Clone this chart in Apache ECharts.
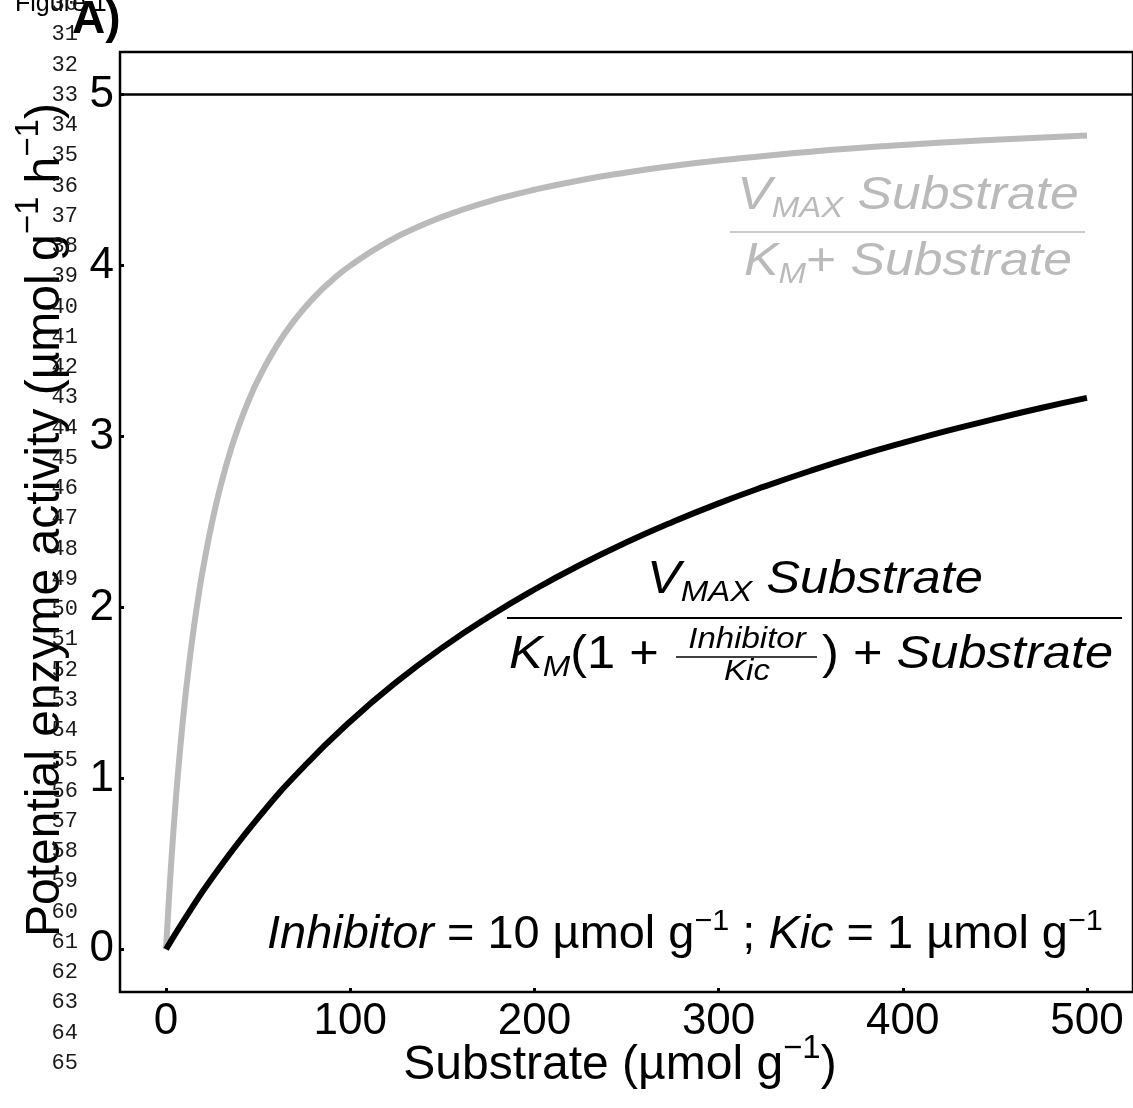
<!DOCTYPE html>
<html>
<head>
<meta charset="utf-8">
<script src="https://cdn.jsdelivr.net/npm/echarts@6/dist/echarts.min.js"></script>
<style>
  html, body { margin: 0; padding: 0; background: #fff; }
  #chart { width: 1133px; height: 1108px; }
</style>
</head>
<body>
<div id="chart"></div>
<script>
// Michaelis–Menten activity without inhibitor (grey) and with a competitive inhibitor (black)
const xTicks = [0, 100, 200, 300, 400, 500];
const yTicks = [0, 1, 2, 3, 4, 5];
const vmax = 5;

const substrateFree = [0, 1, 2, 3, 4, 5, 6, 8, 10, 12, 15, 18, 20, 25, 30, 35, 40, 45, 50, 60, 70, 80, 90, 100,
  120, 140, 160, 180, 200, 225, 250, 275, 300, 350, 400, 450, 500];
const activityFree  = [0, 0.192, 0.370, 0.536, 0.690, 0.833, 0.968, 1.212, 1.429, 1.622, 1.875, 2.093, 2.222, 2.500, 2.727, 2.917, 3.077, 3.214, 3.333, 3.529, 3.684, 3.810, 3.913, 4.000,
  4.138, 4.242, 4.324, 4.390, 4.444, 4.500, 4.545, 4.583, 4.615, 4.667, 4.706, 4.737, 4.762];

const substrateInhib = [0, 10, 25, 50, 75, 100, 125, 150, 175, 200, 225, 250, 275, 300, 325, 350, 375, 400, 425, 450, 475, 500];
const activityInhib  = [0, 0.175, 0.417, 0.769, 1.071, 1.333, 1.563, 1.765, 1.944, 2.105, 2.250, 2.381, 2.500, 2.609, 2.708, 2.800, 2.885, 2.963, 3.036, 3.103, 3.167, 3.226];

const FONT = 'Liberation Sans, Arial, Helvetica, sans-serif';
const GREY = '#bababa';

function pairs(xs, ys) { return xs.map((x, i) => [x, ys[i]]); }

// rich-text styles for formulas
function mathRich(color, size, subSize) {
  return {
    v:   { fontFamily: FONT, fontSize: size, fontStyle: 'italic', fill: color, lineHeight: 56, verticalAlign: 'middle' },
    n:   { fontFamily: FONT, fontSize: size, fill: color, lineHeight: 56, verticalAlign: 'middle' },
    sub: { fontFamily: FONT, fontSize: subSize, fontStyle: 'italic', fill: color, lineHeight: 32, verticalAlign: 'bottom' },
    s:   { fontFamily: FONT, fontSize: subSize, fill: color, lineHeight: 30, verticalAlign: 'top' }
  };
}
function txt(x, y, text, rich, align, z, rotation, sx) {
  return {
    type: 'text', x: x, y: y, z: z || 10, rotation: rotation || 0, scaleX: sx || 1,
    style: { text: text, rich: rich, align: align || 'center', verticalAlign: 'middle' }
  };
}
function hline(x1, x2, y, color, w) {
  return { type: 'line', z: 10, shape: { x1: x1, y1: y, x2: x2, y2: y }, style: { stroke: color, lineWidth: w } };
}

function titleRich(size) {
  return {
    a: { fontFamily: FONT, fontSize: size, fill: '#000', lineHeight: 68, verticalAlign: 'middle' },
    s: { fontFamily: FONT, fontSize: Math.round(size * 0.68), fill: '#000', lineHeight: 32, verticalAlign: 'top' }
  };
}

const graphics = [];
// axis titles
graphics.push(txt(46, 520, '{a|Potential enzyme activity (µmol g}{s|−1}{a| h}{s|−1}{a|)}', titleRich(48), 'center', 5, Math.PI / 2));
graphics.push(txt(620, 1066, '{a|Substrate (µmol g}{s|−1}{a|)}', titleRich(48), 'center', 5));

const FX = 1.1; // horizontal stretch of the formula lettering

// free-enzyme formula (grey)
const gr = mathRich(GREY, 47, 30);
graphics.push(txt(908, 196, '{v|V}{sub|MAX}{v| Substrate}', gr, 'center', 10, 0, FX));
graphics.push(hline(730, 1085, 232, GREY, 1.5));
graphics.push(txt(908, 262, '{v|K}{sub|M}{n|+ }{v|Substrate}', gr, 'center', 10, 0, FX));

// inhibited formula (black)
const bk = mathRich('#000', 46, 30);
const bkSmall = {
  v: { fontFamily: FONT, fontSize: 30, fontStyle: 'italic', fill: '#000', lineHeight: 36, verticalAlign: 'middle' }
};
graphics.push(txt(815, 580, '{v|V}{sub|MAX}{v| Substrate}', bk, 'center', 10, 0, FX));
graphics.push(hline(507, 1122, 618, '#000', 2));
graphics.push(txt(509, 655, '{v|K}{sub|M}{n|(1 + }', bk, 'left', 10, 0, FX));
graphics.push(txt(747, 640, '{v|Inhibitor}', bkSmall, 'center', 10, 0, FX));
graphics.push(hline(676, 817, 657, '#000', 1.5));
graphics.push(txt(747, 672, '{v|Kic}', bkSmall, 'center', 10, 0, FX));
graphics.push(txt(822, 655, '{n|) + }{v|Substrate}', bk, 'left', 10, 0, FX));

// inhibitor settings
graphics.push(txt(267, 935, '{v|Inhibitor}{n| = 10 µmol g}{s|−1}{n| ; }{v|Kic}{n| = 1 µmol g}{s|−1}', mathRich('#000', 46, 30), 'left', 10, 0, 1.02));

// page furniture: figure caption, panel letter, manuscript line numbers
graphics.push({ type: 'text', x: 15, y: 4, z: 20, style: { text: 'Figure 1', font: '25px ' + FONT, fill: '#000', align: 'left', verticalAlign: 'middle' } });
for (let n = 30; n <= 65; n++) {
  graphics.push({
    type: 'text', x: 78, y: 95 + (n - 33) * 30.25, z: 30,
    style: { text: String(n), font: '22px Liberation Mono, Courier New, monospace', fill: '#1a1a1a', align: 'right', verticalAlign: 'middle' }
  });
}
graphics.push({ type: 'text', x: 72, y: 20, z: 40, style: { text: 'A)', font: 'bold 46px ' + FONT, fill: '#000', align: 'left', verticalAlign: 'middle' } });

const chart = echarts.init(document.getElementById('chart'), null, { renderer: 'canvas' });
chart.setOption({
  animation: false,
  backgroundColor: '#fff',
  grid: { left: 120, top: 52, width: 1017, height: 940, show: true, borderColor: '#000', borderWidth: 2.5, backgroundColor: 'transparent' },
  xAxis: {
    type: 'value', min: -25, max: 525,
    axisLine: { show: false, onZero: false },
    axisTick: { show: true, inside: true, length: 4, lineStyle: { color: '#000', width: 3 }, customValues: xTicks },
    axisLabel: { fontFamily: FONT, fontSize: 44, color: '#000', margin: 8, customValues: xTicks },
    splitLine: { show: false }
  },
  yAxis: {
    type: 'value', min: -0.25, max: 5.25,
    axisLine: { show: false, onZero: false },
    axisTick: { show: true, inside: true, length: 4, lineStyle: { color: '#000', width: 3 }, customValues: yTicks },
    axisLabel: { fontFamily: FONT, fontSize: 44, color: '#000', margin: 6, customValues: yTicks },
    splitLine: { show: false }
  },
  series: [
    {
      type: 'line', data: pairs(substrateFree, activityFree), showSymbol: false, smooth: 0.5,
      lineStyle: { color: GREY, width: 6, join: 'round' },
      markLine: {
        silent: true, symbol: ['none', 'none'], label: { show: false },
        lineStyle: { color: '#000', width: 2.5, type: 'solid' },
        data: [{ yAxis: vmax }]
      }
    },
    {
      type: 'line', data: pairs(substrateInhib, activityInhib), showSymbol: false, smooth: 0.5,
      lineStyle: { color: '#000', width: 6, join: 'round' }
    }
  ],
  graphic: graphics
});
</script>
</body>
</html>
